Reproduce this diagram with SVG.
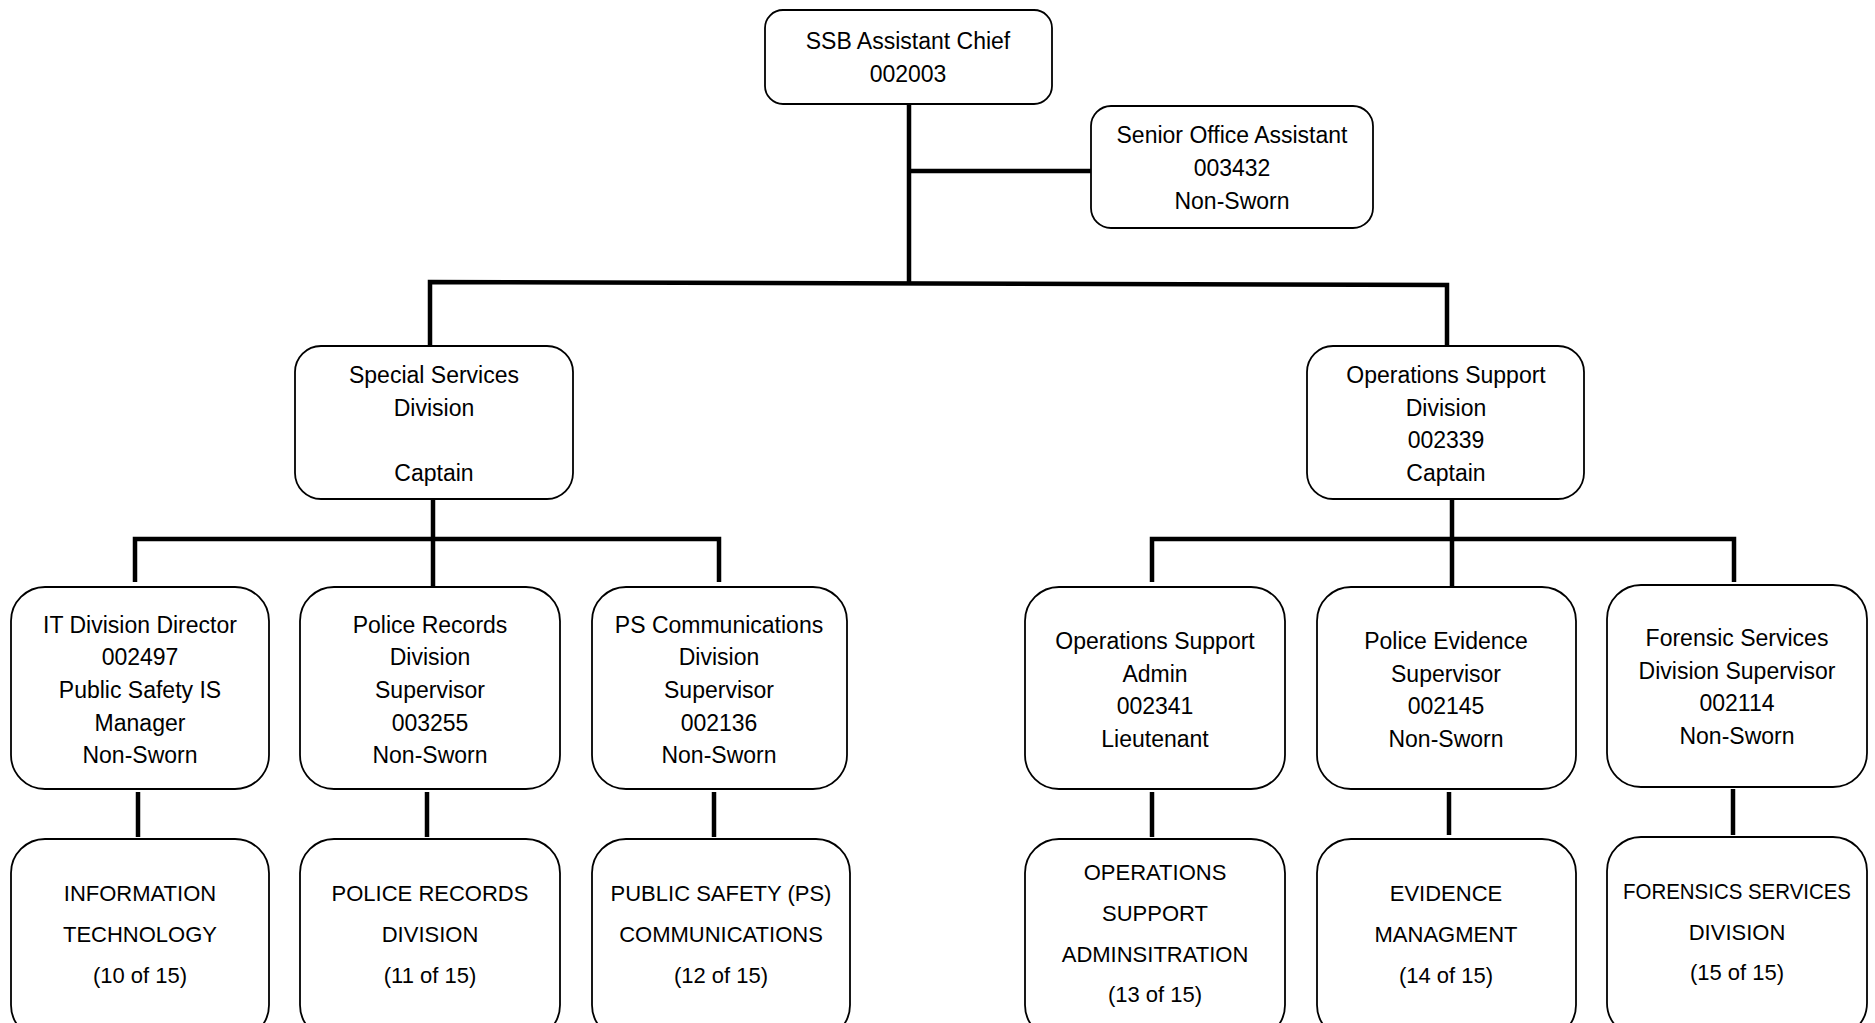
<svg xmlns="http://www.w3.org/2000/svg" width="1875" height="1023" viewBox="0 0 1875 1023">
<style>
.box{fill:#fff;stroke:#000;stroke-width:1.8}
.t{font-family:"Liberation Sans",Arial,sans-serif;font-size:23px;fill:#000;text-anchor:middle}
.t4{font-family:"Liberation Sans",Arial,sans-serif;font-size:22px;fill:#000;text-anchor:middle}
.c{stroke:#000;stroke-width:4.5;fill:none}
</style>
<rect width="1875" height="1023" fill="#fff"/>
<g id="connectors">
<path class="c" d="M909 104V284"/>
<path class="c" d="M909 171H1091"/>
<path class="c" d="M430 346V282L1447 285V346"/>
<path class="c" d="M433 499V539"/>
<path class="c" d="M135 582V539H719V582"/>
<path class="c" d="M433 539V587"/>
<path class="c" d="M1452 499V539"/>
<path class="c" d="M1152 582V539H1734V582"/>
<path class="c" d="M1452 539V590"/>
<path class="c" d="M138 792V837"/>
<path class="c" d="M427 792V837"/>
<path class="c" d="M714 792V837"/>
<path class="c" d="M1152 792V837"/>
<path class="c" d="M1449 792V835"/>
<path class="c" d="M1733 789V835"/>
</g>
<g id="n-chief"><rect class="box" x="765" y="10" width="287" height="94" rx="18"/>
<text class="t" x="908" y="49">SSB Assistant Chief</text><text class="t" x="908" y="82">002003</text></g>
<g id="n-soa"><rect class="box" x="1091" y="106" width="282" height="122" rx="20"/>
<text class="t" x="1232" y="143">Senior Office Assistant</text><text class="t" x="1232" y="176">003432</text><text class="t" x="1232" y="209">Non-Sworn</text></g>
<g id="n-ssd"><rect class="box" x="295" y="346" width="278" height="153" rx="26"/>
<text class="t" x="434" y="383">Special Services</text><text class="t" x="434" y="416">Division</text><text class="t" x="434" y="481">Captain</text></g>
<g id="n-osd"><rect class="box" x="1307" y="346" width="277" height="153" rx="26"/>
<text class="t" x="1446" y="383">Operations Support</text><text class="t" x="1446" y="416">Division</text><text class="t" x="1446" y="448">002339</text><text class="t" x="1446" y="481">Captain</text></g>
<g id="n-it"><rect class="box" x="11" y="587" width="258" height="202" rx="34"/>
<text class="t" x="140" y="633">IT Division Director</text><text class="t" x="140" y="665">002497</text><text class="t" x="140" y="698">Public Safety IS</text><text class="t" x="140" y="731">Manager</text><text class="t" x="140" y="763">Non-Sworn</text></g>
<g id="n-prd"><rect class="box" x="300" y="587" width="260" height="202" rx="34"/>
<text class="t" x="430" y="633">Police Records</text><text class="t" x="430" y="665">Division</text><text class="t" x="430" y="698">Supervisor</text><text class="t" x="430" y="731">003255</text><text class="t" x="430" y="763">Non-Sworn</text></g>
<g id="n-psc"><rect class="box" x="592" y="587" width="255" height="202" rx="34"/>
<text class="t" x="719" y="633">PS Communications</text><text class="t" x="719" y="665">Division</text><text class="t" x="719" y="698">Supervisor</text><text class="t" x="719" y="731">002136</text><text class="t" x="719" y="763">Non-Sworn</text></g>
<g id="n-osa"><rect class="box" x="1025" y="587" width="260" height="202" rx="34"/>
<text class="t" x="1155" y="649">Operations Support</text><text class="t" x="1155" y="682">Admin</text><text class="t" x="1155" y="714">002341</text><text class="t" x="1155" y="747">Lieutenant</text></g>
<g id="n-pes"><rect class="box" x="1317" y="587" width="259" height="202" rx="34"/>
<text class="t" x="1446" y="649">Police Evidence</text><text class="t" x="1446" y="682">Supervisor</text><text class="t" x="1446" y="714">002145</text><text class="t" x="1446" y="747">Non-Sworn</text></g>
<g id="n-fsd"><rect class="box" x="1607" y="585" width="260" height="202" rx="34"/>
<text class="t" x="1737" y="646">Forensic Services</text><text class="t" x="1737" y="679">Division Supervisor</text><text class="t" x="1737" y="711">002114</text><text class="t" x="1737" y="744">Non-Sworn</text></g>
<g id="n-it4"><rect class="box" x="11" y="839" width="258" height="200" rx="34"/>
<text class="t4" x="140" y="901">INFORMATION</text><text class="t4" x="140" y="942">TECHNOLOGY</text><text class="t4" x="140" y="983">(10 of 15)</text></g>
<g id="n-prd4"><rect class="box" x="300" y="839" width="260" height="200" rx="34"/>
<text class="t4" x="430" y="901">POLICE RECORDS</text><text class="t4" x="430" y="942">DIVISION</text><text class="t4" x="430" y="983">(11 of 15)</text></g>
<g id="n-psc4"><rect class="box" x="592" y="839" width="258" height="200" rx="34"/>
<text class="t4" x="721" y="901">PUBLIC SAFETY (PS)</text><text class="t4" x="721" y="942">COMMUNICATIONS</text><text class="t4" x="721" y="983">(12 of 15)</text></g>
<g id="n-osa4"><rect class="box" x="1025" y="839" width="260" height="200" rx="34"/>
<text class="t4" x="1155" y="880">OPERATIONS</text><text class="t4" x="1155" y="921">SUPPORT</text><text class="t4" x="1155" y="962">ADMINSITRATION</text><text class="t4" x="1155" y="1002">(13 of 15)</text></g>
<g id="n-em4"><rect class="box" x="1317" y="839" width="259" height="200" rx="34"/>
<text class="t4" x="1446" y="901">EVIDENCE</text><text class="t4" x="1446" y="942">MANAGMENT</text><text class="t4" x="1446" y="983">(14 of 15)</text></g>
<g id="n-fsd4"><rect class="box" x="1607" y="837" width="260" height="200" rx="34"/>
<text class="t4" x="1737" y="899" textLength="228" lengthAdjust="spacingAndGlyphs">FORENSICS SERVICES</text><text class="t4" x="1737" y="940">DIVISION</text><text class="t4" x="1737" y="980">(15 of 15)</text></g>
</svg>
